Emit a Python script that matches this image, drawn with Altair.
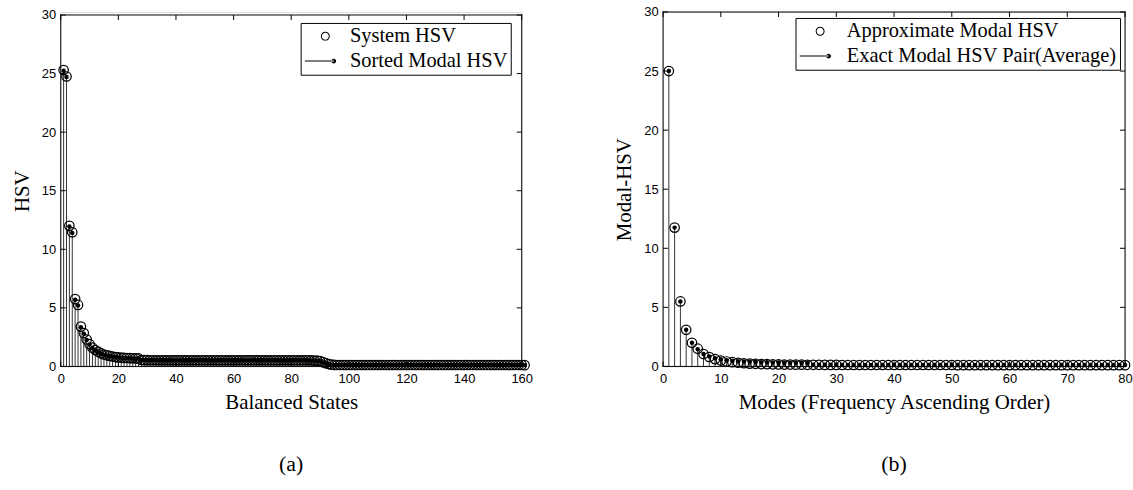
import altair as alt
import pandas as pd

# ---------------- data ----------------
L_SYS = [25.3, 24.75, 12.0, 11.45, 5.75, 5.25, 3.4, 2.85, 2.3, 1.9,
         1.6, 1.4, 1.25, 1.12, 1.02, 0.95, 0.9, 0.85, 0.8, 0.77,
         0.75, 0.73, 0.72, 0.71, 0.7, 0.69, 0.68,
         0.55, 0.54, 0.54, 0.53, 0.53, 0.53, 0.52, 0.52, 0.52, 0.52,
         0.52, 0.52, 0.52, 0.52, 0.52, 0.52, 0.52, 0.52, 0.52, 0.52,
         0.52, 0.52, 0.52, 0.52, 0.52, 0.52, 0.52, 0.52, 0.52, 0.52,
         0.52, 0.52, 0.52, 0.52, 0.52, 0.52, 0.52, 0.52, 0.52, 0.52,
         0.52, 0.52, 0.52, 0.52, 0.52, 0.52, 0.52, 0.52, 0.52, 0.52,
         0.52, 0.52, 0.52, 0.52, 0.52, 0.52, 0.52, 0.52, 0.52, 0.51,
         0.50, 0.49,
         0.45, 0.36, 0.28, 0.2, 0.15, 0.13,
         0.12, 0.12, 0.12, 0.12, 0.12, 0.12, 0.12, 0.12, 0.12, 0.12,
         0.12, 0.12, 0.12, 0.12, 0.12, 0.12, 0.12, 0.12, 0.12, 0.12,
         0.12, 0.12, 0.12, 0.12, 0.12, 0.12, 0.12, 0.12, 0.12, 0.12,
         0.12, 0.12, 0.12, 0.12, 0.12, 0.12, 0.12, 0.12, 0.12, 0.12,
         0.12, 0.12, 0.12, 0.12, 0.12, 0.12, 0.12, 0.12, 0.12, 0.12,
         0.12, 0.12, 0.12, 0.12, 0.12, 0.12, 0.12, 0.12, 0.12, 0.12,
         0.12, 0.12, 0.12, 0.12, 0.12, 0.11]

L_MOD = [25.25, 24.7, 11.95, 11.4, 5.7, 5.2, 3.35, 2.8, 2.25, 1.88,
         1.58, 1.38, 1.24, 1.11, 1.01, 0.94, 0.89, 0.84, 0.8, 0.76,
         0.74, 0.72, 0.71, 0.7, 0.69, 0.68, 0.67,
         0.55, 0.54, 0.54, 0.53, 0.53, 0.53, 0.52, 0.52, 0.52, 0.52,
         0.52, 0.52, 0.52, 0.52, 0.52, 0.52, 0.52, 0.52, 0.52, 0.52,
         0.52, 0.52, 0.52, 0.52, 0.52, 0.52, 0.52, 0.52, 0.52, 0.52,
         0.52, 0.52, 0.52, 0.52, 0.52, 0.52, 0.52, 0.52, 0.52, 0.52,
         0.52, 0.52, 0.52, 0.52, 0.52, 0.52, 0.52, 0.52, 0.52, 0.52,
         0.52, 0.52, 0.52, 0.52, 0.52, 0.52, 0.52, 0.52, 0.52, 0.51,
         0.50, 0.49,
         0.45, 0.36, 0.28, 0.2, 0.15, 0.13,
         0.12, 0.12, 0.12, 0.12, 0.12, 0.12, 0.12, 0.12, 0.12, 0.12,
         0.12, 0.12, 0.12, 0.12, 0.12, 0.12, 0.12, 0.12, 0.12, 0.12,
         0.12, 0.12, 0.12, 0.12, 0.12, 0.12, 0.12, 0.12, 0.12, 0.12,
         0.12, 0.12, 0.12, 0.12, 0.12, 0.12, 0.12, 0.12, 0.12, 0.12,
         0.12, 0.12, 0.12, 0.12, 0.12, 0.12, 0.12, 0.12, 0.12, 0.12,
         0.12, 0.12, 0.12, 0.12, 0.12, 0.12, 0.12, 0.12, 0.12, 0.12,
         0.12, 0.12, 0.12, 0.12, 0.12, 0.11]

R_APX = [25.0, 11.75, 5.5, 3.1, 2.0, 1.5, 1.05, 0.8, 0.62, 0.5,
         0.42, 0.36, 0.31, 0.27, 0.24, 0.22, 0.2, 0.19, 0.18, 0.17,
         0.16, 0.16, 0.15, 0.15, 0.14, 0.14, 0.14, 0.13, 0.13, 0.13,
         0.12, 0.12, 0.12, 0.12, 0.12, 0.12, 0.12, 0.12, 0.12, 0.12,
         0.12, 0.12, 0.12, 0.12, 0.12, 0.12, 0.12, 0.12, 0.12, 0.12,
         0.11, 0.11, 0.11, 0.11, 0.11, 0.11, 0.11, 0.11, 0.11, 0.11,
         0.11, 0.11, 0.11, 0.11, 0.11, 0.11, 0.11, 0.11, 0.11, 0.11,
         0.11, 0.11, 0.11, 0.11, 0.11, 0.11, 0.11, 0.11, 0.11, 0.11]

R_EXA = [25.0, 11.75, 5.5, 3.1, 2.0, 1.45, 1.05, 0.85, 0.7, 0.6,
         0.53, 0.48, 0.44, 0.41, 0.39, 0.37, 0.36, 0.35, 0.34, 0.33,
         0.32, 0.32, 0.31, 0.31, 0.3, 0.15, 0.15, 0.14, 0.14, 0.14,
         0.13, 0.13, 0.13, 0.13, 0.13, 0.13, 0.13, 0.13, 0.13, 0.13,
         0.13, 0.13, 0.13, 0.13, 0.13, 0.13, 0.13, 0.13, 0.13, 0.13,
         0.12, 0.12, 0.12, 0.12, 0.12, 0.12, 0.12, 0.12, 0.12, 0.12,
         0.12, 0.12, 0.12, 0.12, 0.12, 0.12, 0.12, 0.12, 0.12, 0.12,
         0.12, 0.12, 0.12, 0.12, 0.12, 0.12, 0.12, 0.12, 0.12, 0.12]

L_XTICKS = [0, 20, 40, 60, 80, 100, 120, 140, 160]
R_XTICKS = [0, 10, 20, 30, 40, 50, 60, 70, 80]
Y_TICKS = [0, 5, 10, 15, 20, 25, 30]
Y_MAX = 30

L_NAMES = ["System HSV", "Sorted Modal HSV"]
R_NAMES = ["Approximate Modal HSV", "Exact Modal HSV Pair(Average)"]

# legend symbols (custom paths, unit = sqrt(size)/2 px)
RING = ("M0.7,0 A0.45,0.45 0 1,0 1.6,0 A0.45,0.45 0 1,0 0.7,0 Z "
        "M0.8,0 A0.35,0.35 0 1,1 1.5,0 A0.35,0.35 0 1,1 0.8,0 Z")
LINEDOT = ("M-0.9,-0.05 L2.0,-0.05 L2.0,0.05 L-0.9,0.05 Z "
           "M1.76,0 A0.24,0.24 0 1,0 2.24,0 A0.24,0.24 0 1,0 1.76,0 Z")

SERIF = "Liberation Serif"
SANS = "Liberation Sans"
H = 356


def panel(sys_vals, mod_vals, xmax, xticks, width, xtitle, ytitle,
          names, legend_x, legend_y, label_offset, caption, top_gap):
    n = len(sys_vals)
    df = pd.DataFrame({"i": list(range(1, n + 1)), "sys": sys_vals, "mod": mod_vals})
    xscale = alt.Scale(domain=[0, xmax], nice=False, zero=True)
    yscale = alt.Scale(domain=[0, Y_MAX], nice=False, zero=True, range=[H, top_gap])
    xaxis = alt.Axis(values=xticks, title=xtitle, ticks=False, domain=False, grid=False,
                     labelFont=SANS, labelFontSize=13, labelColor="black", labelPadding=6,
                     labelFlush=False, format="d",
                     titleFont=SERIF, titleFontSize=21, titleFontWeight="normal",
                     titleColor="black", titlePadding=6)
    yaxis = alt.Axis(values=Y_TICKS, title=ytitle, ticks=False, domain=False, grid=False,
                     labelFont=SANS, labelFontSize=13, labelColor="black", labelPadding=5,
                     labelFlush=False, format="d",
                     titleFont=SERIF, titleFontSize=21, titleFontWeight="normal",
                     titleColor="black", titlePadding=9)
    X = lambda f: alt.X(f, scale=xscale, axis=xaxis)
    Y = lambda f: alt.Y(f, scale=yscale, axis=yaxis)
    base = alt.Chart(df)
    stems = base.mark_rule(color="black", strokeWidth=0.8).encode(
        x=X("i:Q"), y=Y("mod:Q"), y2=alt.datum(0))
    circles = base.mark_point(shape="circle", size=90, filled=False, color="black",
                              strokeWidth=1.25, opacity=1).encode(x=X("i:Q"), y=Y("sys:Q"))
    dots = base.mark_point(shape="circle", size=20, filled=True, color="black",
                           opacity=1).encode(x=X("i:Q"), y=Y("mod:Q"))
    # axes box in data coordinates
    frame = pd.DataFrame({"x": [0, 0, 0, xmax], "x2": [xmax, xmax, 0, xmax],
                          "y": [Y_MAX, 0, 0, 0], "y2": [Y_MAX, 0, Y_MAX, Y_MAX]})
    box = alt.Chart(frame).mark_rule(color="black", strokeWidth=1, strokeCap="square").encode(
        x=X("x:Q"), x2="x2:Q", y=Y("y:Q"), y2="y2:Q")
    # inward ticks
    xt = pd.DataFrame({"t": xticks, "top": [Y_MAX] * len(xticks), "bot": [0] * len(xticks)})
    yt = pd.DataFrame({"t": Y_TICKS})
    top_ticks = alt.Chart(xt).mark_rule(color="black", strokeWidth=1, y2Offset=5).encode(
        x=X("t:Q"), y=Y("top:Q"), y2="top:Q")
    bot_ticks = alt.Chart(xt).mark_rule(color="black", strokeWidth=1, y2Offset=-5).encode(
        x=X("t:Q"), y=Y("bot:Q"), y2="bot:Q")
    left_ticks = alt.Chart(yt).mark_rule(color="black", strokeWidth=1).encode(
        y=Y("t:Q"), x=alt.value(0), x2=alt.value(5))
    right_ticks = alt.Chart(yt).mark_rule(color="black", strokeWidth=1).encode(
        y=Y("t:Q"), x=alt.value(width), x2=alt.value(width - 5))
    leg = alt.Chart(pd.DataFrame({"s": names})).mark_point(
        opacity=0, filled=True, color="black").encode(
        shape=alt.Shape("s:N", scale=alt.Scale(domain=names, range=[RING, LINEDOT]),
                        legend=alt.Legend(title=None, orient="none", legendX=legend_x,
                                          legendY=legend_y + top_gap, padding=3, rowPadding=4,
                                          symbolSize=400, symbolFillColor="black",
                                          symbolStrokeColor="black", symbolStrokeWidth=0,
                                          symbolOpacity=1, labelFont=SERIF, labelFontSize=20.5,
                                          labelColor="black", labelOffset=label_offset,
                                          labelLimit=500, strokeColor="black",
                                          fillColor="white", cornerRadius=0)))
    return alt.layer(stems, dots, circles, box, top_ticks, bot_ticks, left_ticks,
                     right_ticks, leg).properties(
        width=width, height=H,
        title=alt.TitleParams(caption, orient="bottom", font=SERIF, fontSize=22,
                              fontWeight="normal", color="black", offset=42,
                              frame="group", anchor="middle"))


left = panel(L_SYS, L_MOD, 160, L_XTICKS, 463, "Balanced States", "HSV",
             L_NAMES, 241, 8, 26, "(a)", 3)
right = panel(R_APX, R_EXA, 80, R_XTICKS, 464, "Modes (Frequency Ascending Order)",
              "Modal-HSV", R_NAMES, 133, 6, 28, "(b)", 0)

chart = alt.hconcat(left, right, spacing=80).resolve_scale(
    shape="independent").resolve_legend(shape="independent").properties(
    padding={"left": 11, "top": 4, "right": 0, "bottom": 0}
).configure_view(strokeWidth=0).configure(background="white")

chart.save("out.html", embed_options={"renderer": "svg", "actions": False})
